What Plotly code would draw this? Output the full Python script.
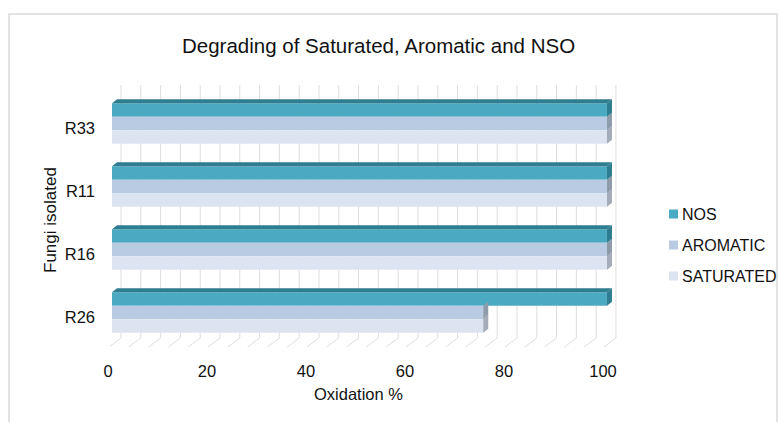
import plotly.graph_objects as go

# Data
fungi = ["R26", "R16", "R11", "R33"]          # bottom to top
nos = [100, 100, 100, 100]
aromatic = [75, 100, 100, 100]
saturated = [75, 100, 100, 100]
x_ticks = [0, 20, 40, 60, 80, 100]

W, H = 778, 422

# Plot area in pixels
PX_L, PX_R = 110, 620
PX_T, PX_B = 85, 350
X_RANGE = [-0.404, 102.63]
Y_RANGE = [-0.595, 3.611]
KX = (PX_R - PX_L) / (X_RANGE[1] - X_RANGE[0])   # px per x unit
KY = (PX_B - PX_T) / (Y_RANGE[1] - Y_RANGE[0])   # px per y unit


def ux(px):
    return px / KX


def uy(px):
    return px / KY


BAR_W = uy(13.5)
series = [
    ("NOS", nos, +BAR_W, "#4aaac2", "#2f7d90", "#2f7d90"),
    ("AROMATIC", aromatic, 0.0, "#b8cbe2", "#8e9bab", None),
    ("SATURATED", saturated, -BAR_W, "#dbe4f0", "#a3acb8", None),
]

fig = go.Figure()

for name, vals, off, col, side_col, top_col in series:
    fig.add_trace(go.Bar(
        x=vals,
        y=[i + off for i in range(len(fungi))],
        orientation="h",
        width=BAR_W,
        name=name,
        showlegend=False,
        marker=dict(color=col, line=dict(width=0)),
        hovertemplate="%{x}<extra>" + name + "</extra>",
    ))

shapes = []
annotations = []

# Back wall grid (minor every 4, labels every 20) and floor diagonals
WALL_DX = ux(9)
wall_bottom = Y_RANGE[0] + uy(12)
floor_dx, floor_dy = ux(-12), uy(-9)
grid_col = "#dedede"
for v in range(0, 101, 4):
    xb = v + WALL_DX
    shapes.append(dict(type="line", xref="x", yref="y", x0=xb, x1=xb,
                       y0=wall_bottom, y1=Y_RANGE[1],
                       line=dict(color=grid_col, width=1), layer="below"))
    shapes.append(dict(type="line", xref="x", yref="y", x0=xb, x1=xb + floor_dx,
                       y0=wall_bottom, y1=wall_bottom + floor_dy,
                       line=dict(color=grid_col, width=1), layer="below"))

# 3-D faces of the bars (depth offsets)
DX, DY = ux(5), uy(4)
for name, vals, off, col, side_col, top_col in reversed(series):
    for i, v in enumerate(vals):
        yc = i + off
        t, b = yc + BAR_W / 2, yc - BAR_W / 2
        # end face
        shapes.append(dict(
            type="path", xref="x", yref="y", layer="above",
            path=f"M {v},{t} L {v + DX},{t + DY} L {v + DX},{b + DY} L {v},{b} Z",
            fillcolor=side_col, line=dict(width=0)))
        if top_col:
            shapes.append(dict(
                type="path", xref="x", yref="y", layer="above",
                path=f"M 0,{t} L {DX},{t + DY} L {v + DX},{t + DY} L {v},{t} Z",
                fillcolor=top_col, line=dict(width=0)))

# Legend: colour swatch + label per series
LEG_X, LEG_Y0, LEG_STEP, SW = 669, 214, 31, 9
for k, (name, vals, off, col, side_col, top_col) in enumerate(series):
    cy = LEG_Y0 + k * LEG_STEP
    shapes.append(dict(type="rect", xref="paper", yref="paper",
                       x0=LEG_X / W, x1=(LEG_X + SW) / W,
                       y0=1 - (cy + SW / 2) / H, y1=1 - (cy - SW / 2) / H,
                       fillcolor=col, line=dict(width=0)))
    annotations.append(dict(text=name, xref="paper", yref="paper",
                            x=(LEG_X + SW + 2) / W, y=1 - cy / H,
                            xanchor="left", yanchor="middle", showarrow=False,
                            font=dict(size=16, color="#111111")))

# Chart frame
shapes.append(dict(type="rect", xref="paper", yref="paper",
                   x0=9 / W, x1=777 / W, y0=-0.05, y1=1 - 14 / H,
                   line=dict(color="#d9d9d9", width=1.5), layer="below"))

font_family = "Liberation Sans, Arial, sans-serif"

annotations += [
    dict(text="Degrading of Saturated, Aromatic and NSO", xref="paper", yref="paper",
         x=378 / W, y=1 - 45 / H, showarrow=False, xanchor="center", yanchor="middle",
         font=dict(size=20.5, color="#111111")),
    dict(text="Oxidation %", xref="paper", yref="paper",
         x=358 / W, y=1 - 394 / H, showarrow=False, xanchor="center", yanchor="middle",
         font=dict(size=16.5, color="#111111")),
    dict(text="Fungi isolated", xref="paper", yref="paper", textangle=-90,
         x=50 / W, y=1 - 220 / H, showarrow=False, xanchor="center", yanchor="middle",
         font=dict(size=17, color="#111111")),
]

fig.update_layout(
    width=W, height=H,
    margin=dict(l=0, r=0, t=0, b=0),
    paper_bgcolor="white", plot_bgcolor="rgba(0,0,0,0)",
    barmode="overlay",
    font=dict(family=font_family, size=16, color="#111111"),
    shapes=shapes,
    annotations=annotations,
    showlegend=False,
    xaxis=dict(
        domain=[PX_L / W, PX_R / W], range=X_RANGE,
        tickvals=x_ticks, ticktext=[str(v) for v in x_ticks],
        showgrid=False, zeroline=False, showline=False, ticks="",
        ticklabelshift=-4, ticklabelstandoff=9, automargin=False,
        tickfont=dict(size=16.5),
    ),
    yaxis=dict(
        domain=[1 - PX_B / H, 1 - PX_T / H], range=Y_RANGE,
        tickvals=list(range(len(fungi))), ticktext=fungi,
        showgrid=False, zeroline=False, showline=False, ticks="",
        ticklabelshift=5, ticklabelstandoff=14, automargin=False,
        tickfont=dict(size=16.5),
    ),
)

fig.write_html("out.html")
